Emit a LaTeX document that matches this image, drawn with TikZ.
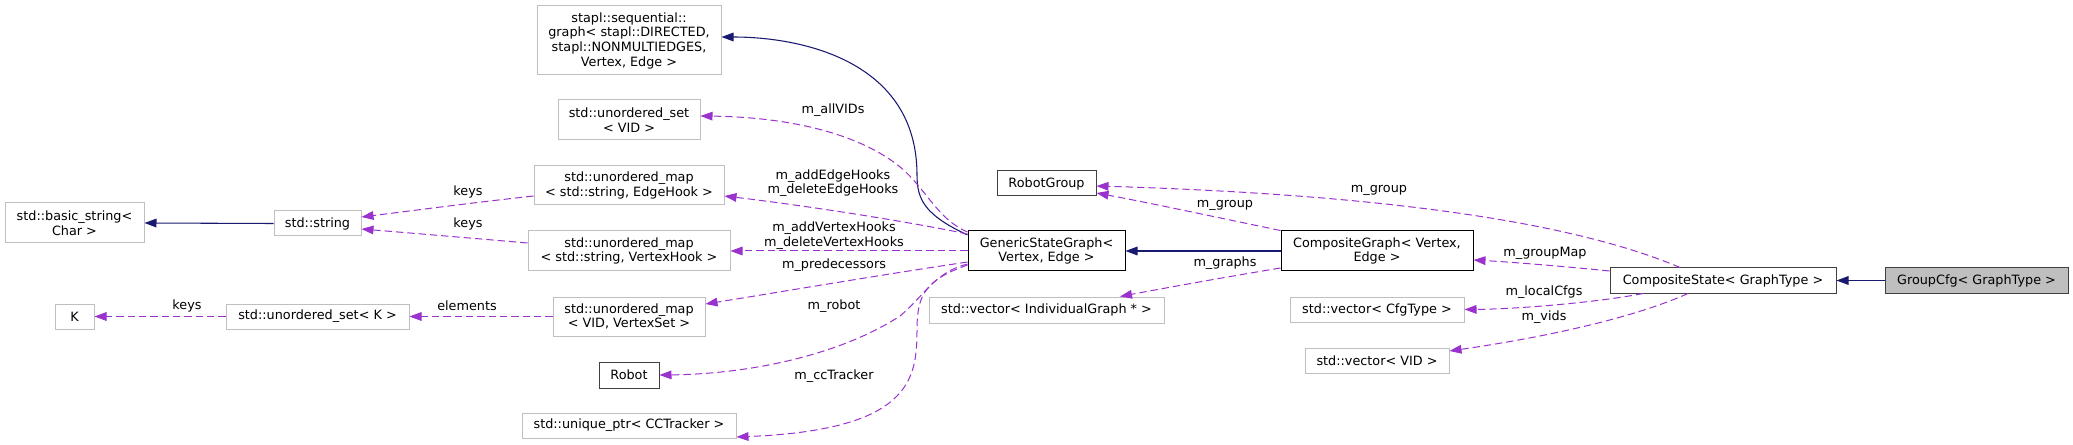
\documentclass[tikz,border=0pt]{standalone}
\usepackage{fontspec}
\setmainfont{DejaVu Sans}
\usetikzlibrary{arrows.meta}
\definecolor{usec}{HTML}{9A32CD}
\definecolor{inhc}{HTML}{191970}
\definecolor{gbord}{HTML}{BFBFBF}
\definecolor{dbord}{HTML}{404040}
\begin{document}
\begin{tikzpicture}[x=0.75pt,y=-0.75pt,
  every node/.style={font=\fontsize{9.6}{11}\selectfont},
  box/.style={draw, line width=0.75pt, inner sep=0pt, align=center, fill=white},
  gbox/.style={box, draw=gbord},
  bbox/.style={box, draw=black},
  sz/.style 2 args={minimum width=#1*0.75pt, minimum height=#2*0.75pt},
  dx/.style={xshift=#1*0.75pt},
  dy/.style={yshift=-#1*0.75pt},
  tip/.style={-{Triangle[length=9pt,width=6.5pt]}},
  use/.style={tip, draw=usec, line width=0.75pt, dash pattern=on 5.5pt off 3pt},
  inh/.style={tip, draw=inhc, line width=0.8pt},
  lbl/.style={inner sep=0pt, align=center}
]
\useasboundingbox (0,0) rectangle (2073,445);

% nodes
\node[gbox, sz={139}{40}] (bstr) at (74.5,223) {std::basic\_string<\\Char >};
\node[gbox, sz={87}{25}] (str) at (317.5,223.5) {std::string};
\node[gbox, sz={39}{25}] (K) at (74.5,316.5) {K};
\node[gbox, sz={183}{25}] (usetK) at (317.5,316.5) {std::unordered\_set< K >};
\node[gbox, sz={184}{69}] (stapl) at (629,40.5) {stapl::sequential::\\graph< stapl::DIRECTED,\\ stapl::NONMULTIEDGES,\\Vertex, Edge >};
\node[gbox, sz={142}{40}] (usetVID) at (629,120) {std::unordered\_set\\< VID >};
\node[gbox, sz={190}{39}] (mapE) at (629,185.5) {std::unordered\_map\\< std::string, EdgeHook >};
\node[gbox, sz={202}{40}] (mapV) at (629,251) {std::unordered\_map\\< std::string, VertexHook >};
\node[gbox, sz={152}{39}] (mapVS) at (629,316.5) {std::unordered\_map\\< VID, VertexSet >};
\node[bbox, draw=dbord, sz={60}{26}] (robot) at (629,375) {Robot};
\node[gbox, sz={214}{25}] (uptr) at (629,425.5) {std::unique\_ptr< CCTracker >};
\node[bbox, sz={157}{40}] (gsg) at (1046.5,251) {GenericStateGraph<\\Vertex, Edge >};
\node[bbox, draw=dbord, sz={99}{25}] (rgroup) at (1046.5,183.5) {RobotGroup};
\node[gbox, sz={235}{26}] (vind) at (1046.5,310) {std::vector< IndividualGraph * >};
\node[bbox, sz={192}{40}] (cgraph) at (1377,251) {CompositeGraph< Vertex,\\Edge >};
\node[gbox, sz={174}{25}] (vcfg) at (1377,309.5) {std::vector< CfgType >};
\node[gbox, sz={144}{25}] (vvid) at (1377,360.5) {std::vector< VID >};
\node[bbox, draw=dbord, sz={226}{25}] (cstate) at (1723,280.5) {CompositeState< GraphType >};
\node[bbox, draw=dbord, fill=gbord, sz={183}{25}] (gcfg) at (1976.5,280.5) {GroupCfg< GraphType >};

% inheritance
\draw[inh] (str.west) -- (bstr.east);
\draw[inh] ([dy=-16]gsg.west) .. controls (925,215) and (917,200) .. (917,175)
  .. controls (917,60) and (800,37) .. ([dy=-3.5]stapl.east);
\draw[inh] (cgraph.west) -- (gsg.east);
\draw[inh] (gcfg.west) -- (cstate.east);

% usage
\draw[use] ([dy=10.5]mapE.west) .. controls (470,203) and (410,211) .. ([dy=-6.5]str.east);
\draw[use] ([dy=-8]mapV.west) .. controls (470,238) and (410,233) .. ([dy=5.5]str.east);
\draw[use] (usetK.west) -- (K.east);
\draw[use] (mapVS.west) -- (usetK.east);
\draw[use] ([dy=-19]gsg.west) .. controls (935,218) and (925,185) .. (895,163)
  .. controls (850,130) and (780,117) .. ([dy=-4]usetVID.east);
\draw[use] ([dy=-17]gsg.west) .. controls (900,220) and (800,205) .. ([dy=10.5]mapE.east);
\draw[use] (gsg.west) -- (mapV.east);
\draw[use] ([dy=11]gsg.west) .. controls (880,275) and (780,292) .. ([dy=-12.5]mapVS.east);
\draw[use] ([dy=13]gsg.west) .. controls (935,272) and (925,295) .. (900,316)
  .. controls (840,355) and (750,374) .. (robot.east);
\draw[use] ([dy=14]gsg.west) .. controls (925,280) and (917,295) .. (917,330)
  .. controls (917,380) and (910,430) .. ([dy=11.5]uptr.east);
\draw[use] (cgraph.north west) .. controls (1220,218) and (1150,203) .. ([dy=9.5]rgroup.east);
\draw[use] ([dy=17]cgraph.west) .. controls (1220,278) and (1160,289) .. ([dx=73.5]vind.north);
\draw[use] ([dx=-43]cstate.north) .. controls (1580,225) and (1400,195) .. ([dy=2.5]rgroup.east);
\draw[use] ([dy=-9.5]cstate.west) .. controls (1560,266) and (1510,262) .. ([dy=9]cgraph.east);
\draw[use] ([dx=-80]cstate.south) .. controls (1600,302) and (1520,309) .. (vcfg.east);
\draw[use] ([dx=-35]cstate.south) .. controls (1640,315) and (1560,335) .. ([dy=-9.5]vvid.east);

% labels
\node[lbl] (l1) at (468,192) {keys};
\node[lbl] (l2) at (468,224) {keys};
\node[lbl] (l3) at (187,306) {keys};
\node[lbl] (l4) at (467,306) {elements};
\node[lbl] (l5) at (833,110) {m\_allVIDs};
\node[lbl] (l6) at (833,183) {m\_addEdgeHooks\\m\_deleteEdgeHooks};
\node[lbl] (l7) at (834,235.5) {m\_addVertexHooks\\m\_deleteVertexHooks};
\node[lbl] (l8) at (834,265) {m\_predecessors};
\node[lbl] (l9) at (834,306) {m\_robot};
\node[lbl] (l10) at (834,376) {m\_ccTracker};
\node[lbl] (l11) at (1225,205) {m\_group};
\node[lbl] (l12) at (1225,263) {m\_graphs};
\node[lbl] (l13) at (1379,190) {m\_group};
\node[lbl] (l14) at (1545,253) {m\_groupMap};
\node[lbl] (l15) at (1544,292) {m\_localCfgs};
\node[lbl] (l16) at (1544,317) {m\_vids};
\end{tikzpicture}
\end{document}
